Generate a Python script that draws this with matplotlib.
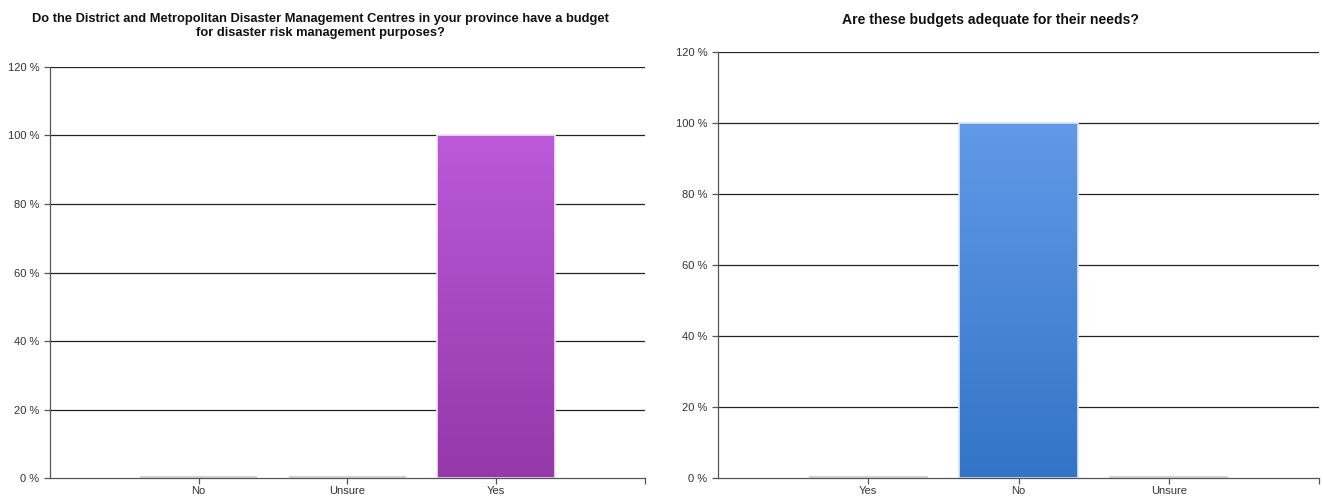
import numpy as np
import matplotlib
matplotlib.use("Agg")
import matplotlib.pyplot as plt
from matplotlib.colors import LinearSegmentedColormap

plt.rcParams['font.family'] = ['Liberation Sans', 'DejaVu Sans']

# Survey responses (percent of respondents)
left_title = ("Do the District and Metropolitan Disaster Management Centres in your province have a budget\n"
              "for disaster risk management purposes?")
left_categories = ["No", "Unsure", "Yes"]
left_values = [0, 0, 100]

right_title = "Are these budgets adequate for their needs?"
right_categories = ["Yes", "No", "Unsure"]
right_values = [0, 100, 0]

y_ticks = [0, 20, 40, 60, 80, 100, 120]
y_tick_labels = ["0 %", "20 %", "40 %", "60 %", "80 %", "100 %", "120 %"]

purple = ("#9538aa", "#bb59d8")
blue = ("#3374c6", "#6299e8")


def gradient_bars(ax, cats, vals, colors, edge):
    x = np.arange(len(cats))
    bars = ax.bar(x, vals, width=0.79, color="none",
                  edgecolor="#d4d4d4", linewidth=3.0, zorder=3)
    cmap = LinearSegmentedColormap.from_list("g", list(colors))
    grad = np.linspace(0, 1, 256).reshape(-1, 1)
    for b, v in zip(bars, vals):
        if v <= 0:
            continue
        x0, w = b.get_x(), b.get_width()
        im = ax.imshow(grad, cmap=cmap, origin="lower", aspect="auto",
                       extent=(x0, x0 + w, 0, v), zorder=2.5)
        im.set_clip_path(b)
        b.set_edgecolor(edge)
        b.set_linewidth(1.2)
    return x


def style(ax, cats, vals, colors, edge):
    x = gradient_bars(ax, cats, vals, colors, edge)
    ax.set_xlim(-1, 3)
    ax.set_ylim(0, 120)
    ax.set_yticks(y_ticks)
    ax.set_yticklabels(y_tick_labels)
    ax.set_xticks(list(x) + [3])
    ax.set_xticklabels(list(cats) + [""])
    for yv in y_ticks[1:]:
        ax.axhline(yv, color="#222222", linewidth=0.9, zorder=1)
    for s in ["top", "right"]:
        ax.spines[s].set_visible(False)
    for s in ["left", "bottom"]:
        ax.spines[s].set_color("#555555")
        ax.spines[s].set_linewidth(0.9)
        ax.spines[s].set_zorder(3.5)
    ax.tick_params(axis="both", colors="#555555", labelcolor="#333333",
                   labelsize=8, length=4, width=0.9)
    ax.tick_params(axis="x", pad=1.5, labelsize=8)


fig = plt.figure(figsize=(13.23, 4.97), dpi=100)
ax1 = fig.add_axes([0.0378, 0.0382, 0.4497, 0.8270])
ax2 = fig.add_axes([0.5427, 0.0382, 0.4543, 0.8572])

style(ax1, left_categories, left_values, purple, "#f3e8f5")
style(ax2, right_categories, right_values, blue, "#dde9f7")

fig.text(0.2419, 0.9470, left_title, ha="center", va="center",
         fontsize=9.25, fontweight="bold", color="#111111", linespacing=1.2)
fig.text(0.7490, 0.9598, right_title, ha="center", va="center",
         fontsize=10.1, fontweight="bold", color="#111111")

fig.savefig("out.png", dpi=100)
